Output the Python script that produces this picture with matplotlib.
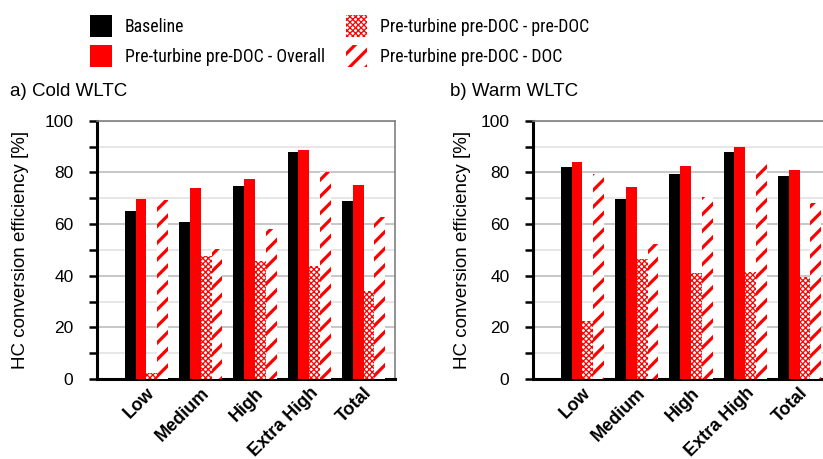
import matplotlib
matplotlib.use("Agg")
import matplotlib.pyplot as plt
import numpy as np
from matplotlib import font_manager
from matplotlib.patches import Rectangle
from matplotlib.ticker import MultipleLocator

plt.rcParams["font.family"] = ["Liberation Sans", "DejaVu Sans"]

categories = ["Low", "Medium", "High", "Extra High", "Total"]

# a) Cold WLTC
cold_baseline = [65.2, 60.9, 74.9, 87.7, 69.1]
cold_overall = [69.8, 74.1, 77.3, 88.5, 75.3]
cold_pre_doc = [2.2, 47.7, 45.8, 43.6, 34.2]
cold_doc = [69.4, 50.5, 58.2, 80.0, 62.9]

# b) Warm WLTC
warm_baseline = [81.9, 69.5, 79.2, 87.7, 78.4]
warm_overall = [83.9, 74.5, 82.3, 90.0, 80.8]
warm_pre_doc = [22.5, 46.6, 41.2, 41.5, 39.3]
warm_doc = [79.2, 52.4, 70.3, 83.5, 68.3]

labels = [
    "Baseline",
    "Pre-turbine pre-DOC - Overall",
    "Pre-turbine pre-DOC - pre-DOC",
    "Pre-turbine pre-DOC - DOC",
]

W, H = 823, 459
RED = "#ff0000"

STYLES = [
    dict(facecolor="black", edgecolor="black", hatch=None, hlw=None),
    dict(facecolor=RED, edgecolor=RED, hatch=None, hlw=None),
    dict(facecolor="white", edgecolor=RED, hatch="xxxxxx", hlw=0.9),
    dict(facecolor="white", edgecolor=RED, hatch="//", hlw=2.3),
]


def hatched(make, st):
    """Build a patch (or bar container) with its own hatch line width."""
    hlw = st["hlw"] or 1.0
    with plt.rc_context({"hatch.linewidth": hlw}):
        obj = make()
    items = obj if hasattr(obj, "__iter__") else [obj]
    for p in items:
        if hasattr(p, "set_hatch_linewidth"):
            p.set_hatch_linewidth(hlw)
    return obj


def draw_panel(ax, series):
    x = np.arange(len(categories))
    w = 0.2
    for k, (vals, st) in enumerate(zip(series, STYLES)):
        hatched(lambda: ax.bar(x - 0.3 + k * w, vals, w, zorder=3, linewidth=0,
                               facecolor=st["facecolor"], edgecolor=st["edgecolor"],
                               hatch=st["hatch"]), st)
    ax.set_xlim(-0.91, 4.58)
    ax.set_ylim(0, 100)
    ax.yaxis.set_major_locator(MultipleLocator(20))
    ax.yaxis.set_minor_locator(MultipleLocator(10))
    ax.grid(axis="y", which="major", color="#bdbdbd", linewidth=1.2, zorder=0)
    ax.grid(axis="y", which="minor", color="#e3e3e3", linewidth=1.2, zorder=0)
    ax.set_axisbelow(True)
    ax.tick_params(axis="y", which="both", direction="out", length=6, width=1.8,
                   labelsize=12.5, pad=11)
    ax.tick_params(axis="x", length=0, pad=4)
    ax.set_xticks(x)
    ax.set_xticklabels(categories, rotation=45, ha="right", rotation_mode="anchor",
                       fontsize=13, fontweight="bold")
    for lab in ax.get_xticklabels():
        lab.set_x(lab.get_position()[0] + 0.03)
    ax.spines["left"].set_linewidth(2.2)
    ax.spines["bottom"].set_linewidth(2.2)
    for s in ("top", "right"):
        ax.spines[s].set_color("#808080")
        ax.spines[s].set_linewidth(1.2)


fig = plt.figure(figsize=(W / 100, H / 100), dpi=100)

ax1 = fig.add_axes([97 / W, 1 - 379 / H, 298 / W, 258.3 / H])
draw_panel(ax1, [cold_baseline, cold_overall, cold_pre_doc, cold_doc])

ax2 = fig.add_axes([533 / W, 1 - 379 / H, 298 / W, 258.3 / H])
draw_panel(ax2, [warm_baseline, warm_overall, warm_pre_doc, warm_doc])

yc = 1 - 250 / H
for xl in (21, 462):
    fig.text(xl / W, yc, "HC conversion efficiency [%]", rotation=90,
             ha="center", va="center", fontsize=13.5)
fig.text(10 / W, 1 - 92 / H, "a) Cold WLTC", ha="left", va="center", fontsize=13.5)
fig.text(450 / W, 1 - 92 / H, "b) Warm WLTC", ha="left", va="center", fontsize=13.5)

# legend block: narrow sans if one is available, sized so the longest
# left-column label spans about 200 px
installed = {f.name for f in font_manager.fontManager.ttflist}
narrow = ["Liberation Sans Narrow", "Arial Narrow", "Roboto Condensed",
          "Archivo Narrow", "PT Sans Narrow"]
leg_family = [n for n in narrow if n in installed][:1] + ["Liberation Sans", "DejaVu Sans"]

probe = fig.text(0, 0, labels[1], family=leg_family, fontsize=12)
fig.canvas.draw()
probe_w = probe.get_window_extent().width
probe.remove()
leg_size = min(13.4, 12 * 200 / probe_w)

swatch = 21.5
slots = [(90, 15), (90, 45), (345.5, 15), (345.5, 45)]
for (px, py), st, lab in zip(slots, STYLES, labels):
    hatched(lambda: fig.add_artist(Rectangle(
        (px / W, 1 - (py + swatch) / H), swatch / W, swatch / H,
        transform=fig.transFigure, linewidth=0, facecolor=st["facecolor"],
        edgecolor=st["edgecolor"], hatch=st["hatch"])), st)
    fig.text((px + swatch + 13.5) / W, 1 - (py + swatch / 2 + 0.8) / H, lab,
             ha="left", va="center", family=leg_family, fontsize=leg_size)

fig.savefig("out.png", dpi=100)
